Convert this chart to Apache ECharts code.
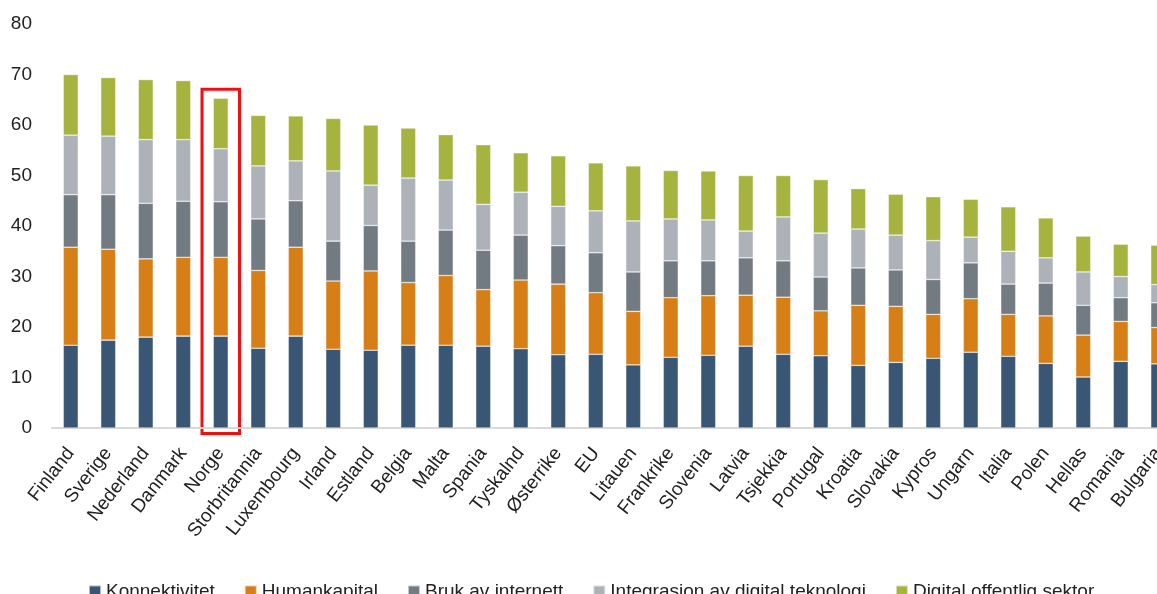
<!DOCTYPE html>
<html>
<head>
<meta charset="utf-8">
<script src="https://cdn.jsdelivr.net/npm/echarts@6/dist/echarts.min.js"></script>
<style>
  html, body { margin: 0; padding: 0; overflow: hidden; background: #fff; }
  #chart { width: 1200px; height: 594px; }
</style>
</head>
<body>
<div id="chart"></div>
<script>
var countries = ["Finland", "Sverige", "Nederland", "Danmark", "Norge", "Storbritannia", "Luxembourg",
  "Irland", "Estland", "Belgia", "Malta", "Spania", "Tyskalnd", "Østerrike", "EU", "Litauen",
  "Frankrike", "Slovenia", "Latvia", "Tsjekkia", "Portugal", "Kroatia", "Slovakia", "Kypros",
  "Ungarn", "Italia", "Polen", "Hellas", "Romania", "Bulgaria"];

var konnektivitet = [16.4, 17.4, 18.0, 18.2, 18.2, 15.8, 18.2, 15.6, 15.4, 16.4, 16.4, 16.2, 15.7, 14.5, 14.6,
  12.5, 14.0, 14.4, 16.2, 14.6, 14.3, 12.4, 13.0, 13.8, 15.0, 14.2, 12.8, 10.1, 13.2, 12.7];
var humankapital = [19.4, 18.0, 15.5, 15.6, 15.6, 15.4, 17.6, 13.5, 15.7, 12.4, 13.8, 11.2, 13.6, 14.0, 12.2,
  10.6, 11.8, 11.8, 10.1, 11.3, 8.9, 11.9, 11.1, 8.7, 10.6, 8.3, 9.4, 8.3, 7.9, 7.2];
var brukInternett = [10.4, 10.8, 11.0, 11.1, 11.0, 10.2, 9.2, 7.9, 9.0, 8.2, 9.0, 7.8, 8.9, 7.6, 7.9,
  7.8, 7.3, 6.9, 7.4, 7.2, 6.7, 7.4, 7.2, 6.9, 7.1, 6.0, 6.5, 5.9, 4.7, 4.9];
var integrasjon = [11.8, 11.6, 12.6, 12.2, 10.5, 10.5, 7.9, 13.9, 8.0, 12.5, 9.9, 9.1, 8.5, 7.8, 8.3,
  10.1, 8.3, 8.1, 5.3, 8.7, 8.7, 7.7, 6.9, 7.7, 5.1, 6.5, 5.0, 6.6, 4.2, 3.6];
var offentlig = [12.0, 11.6, 11.9, 11.7, 10.0, 10.0, 8.9, 10.4, 11.9, 9.9, 9.0, 11.8, 7.8, 10.0, 9.5,
  10.9, 9.6, 9.7, 11.0, 8.2, 10.6, 8.0, 8.1, 8.7, 7.5, 8.8, 7.9, 7.1, 6.4, 7.8];

var yTicks = { min: 0, max: 80, interval: 10 };
var highlight = "Norge";
var highlightRange = [-1.1, 67.1];

var seriesNames = ["Konnektivitet", "Humankapital", "Bruk av internett", "Integrasjon av digital teknologi", "Digital offentlig sektor"];
var seriesData = [konnektivitet, humankapital, brukInternett, integrasjon, offentlig];
var colors = ["#3a5675", "#d67f17", "#727a82", "#acb2b8", "#a6b33f"];

var font = "'Liberation Sans', sans-serif";

var series = seriesNames.map(function (name, i) {
  return {
    name: name,
    type: "bar",
    stack: "total",
    barWidth: 15,
    data: seriesData[i],
    itemStyle: { color: colors[i], borderColor: "rgba(255,255,255,0.6)", borderWidth: 0.6 }
  };
});

var chart = echarts.init(document.getElementById("chart"));
chart.setOption({
  animation: false,
  color: colors,
  grid: { left: 52, right: 23, top: 24, bottom: 166 },
  legend: {
    left: 83,
    top: 577,
    itemWidth: 12,
    itemHeight: 12,
    itemGap: 29,
    icon: "rect",
    textStyle: { fontFamily: font, fontSize: 19, color: "#222" },
    data: seriesNames
  },
  xAxis: {
    type: "category",
    data: countries,
    axisLine: { lineStyle: { color: "#d9d9d9", width: 2 } },
    axisTick: { show: false },
    axisLabel: { rotate: 52, interval: 0, margin: 22, fontFamily: font, fontSize: 19, color: "#222" }
  },
  yAxis: {
    type: "value",
    min: yTicks.min,
    max: yTicks.max,
    interval: yTicks.interval,
    splitLine: { show: false },
    axisLine: { show: false },
    axisTick: { show: false },
    axisLabel: { margin: 20, fontFamily: font, fontSize: 19, color: "#222" }
  },
  series: series
});

// red box round Norge, placed through the axes
var hIdx = countries.indexOf(highlight);
var boxTop = chart.convertToPixel({ gridIndex: 0 }, [hIdx, highlightRange[1]]);
var boxBottom = chart.convertToPixel({ gridIndex: 0 }, [hIdx, highlightRange[0]]);
var nextCat = chart.convertToPixel({ gridIndex: 0 }, [hIdx + 1, 0]);
var band = nextCat[0] - boxTop[0];
chart.setOption({
  graphic: [{
    type: "rect",
    silent: true,
    shape: { x: boxTop[0] - band / 2, y: boxTop[1], width: band, height: boxBottom[1] - boxTop[1] },
    style: { fill: "none", stroke: "#ee1111", lineWidth: 3 }
  }]
});
</script>
</body>
</html>
